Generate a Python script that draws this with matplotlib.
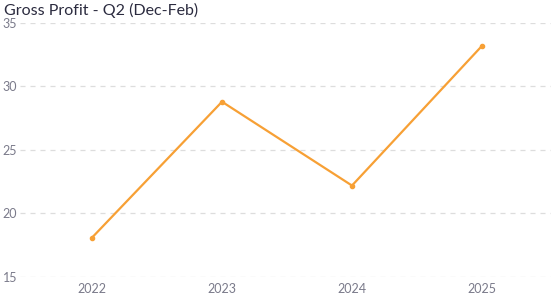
import matplotlib
matplotlib.use("Agg")
import matplotlib.pyplot as plt

plt.rcParams['font.family'] = ['Lato', 'DejaVu Sans']

# data
years = ["2022", "2023", "2024", "2025"]
gross_profit = [18.1, 28.8, 22.2, 33.2]
y_ticks = [15, 20, 25, 30, 35]

fig = plt.figure(figsize=(5.51, 2.95), dpi=100)
ax = fig.add_axes([20 / 551, 18 / 295, 531 / 551, 254 / 295])

x = list(range(len(years)))
ax.plot(x, gross_profit, color="#f7a035", linewidth=1.6, marker="o",
        markersize=3, clip_on=False, zorder=3)

ax.set_xlim(-0.554, 3.531)
ax.set_ylim(15, 35)
ax.set_xticks(x)
ax.set_xticklabels(years)
ax.set_yticks(y_ticks)
ax.set_yticklabels([str(t) for t in y_ticks])

ax.grid(axis="y", color="#dddddd", linestyle=(0, (4, 4)), linewidth=0.9)
ax.set_axisbelow(True)
for s in ax.spines.values():
    s.set_visible(False)
ax.tick_params(axis="both", length=0, labelsize=9, colors="#7a7a8a")
ax.tick_params(axis="y", pad=2)
ax.tick_params(axis="x", pad=4)

fig.text(0.007, 0.966, "Gross Profit - Q2 (Dec-Feb)", fontsize=11.5,
         color="#2b2b3f", ha="left", va="center")

fig.savefig("out.png", dpi=100)
